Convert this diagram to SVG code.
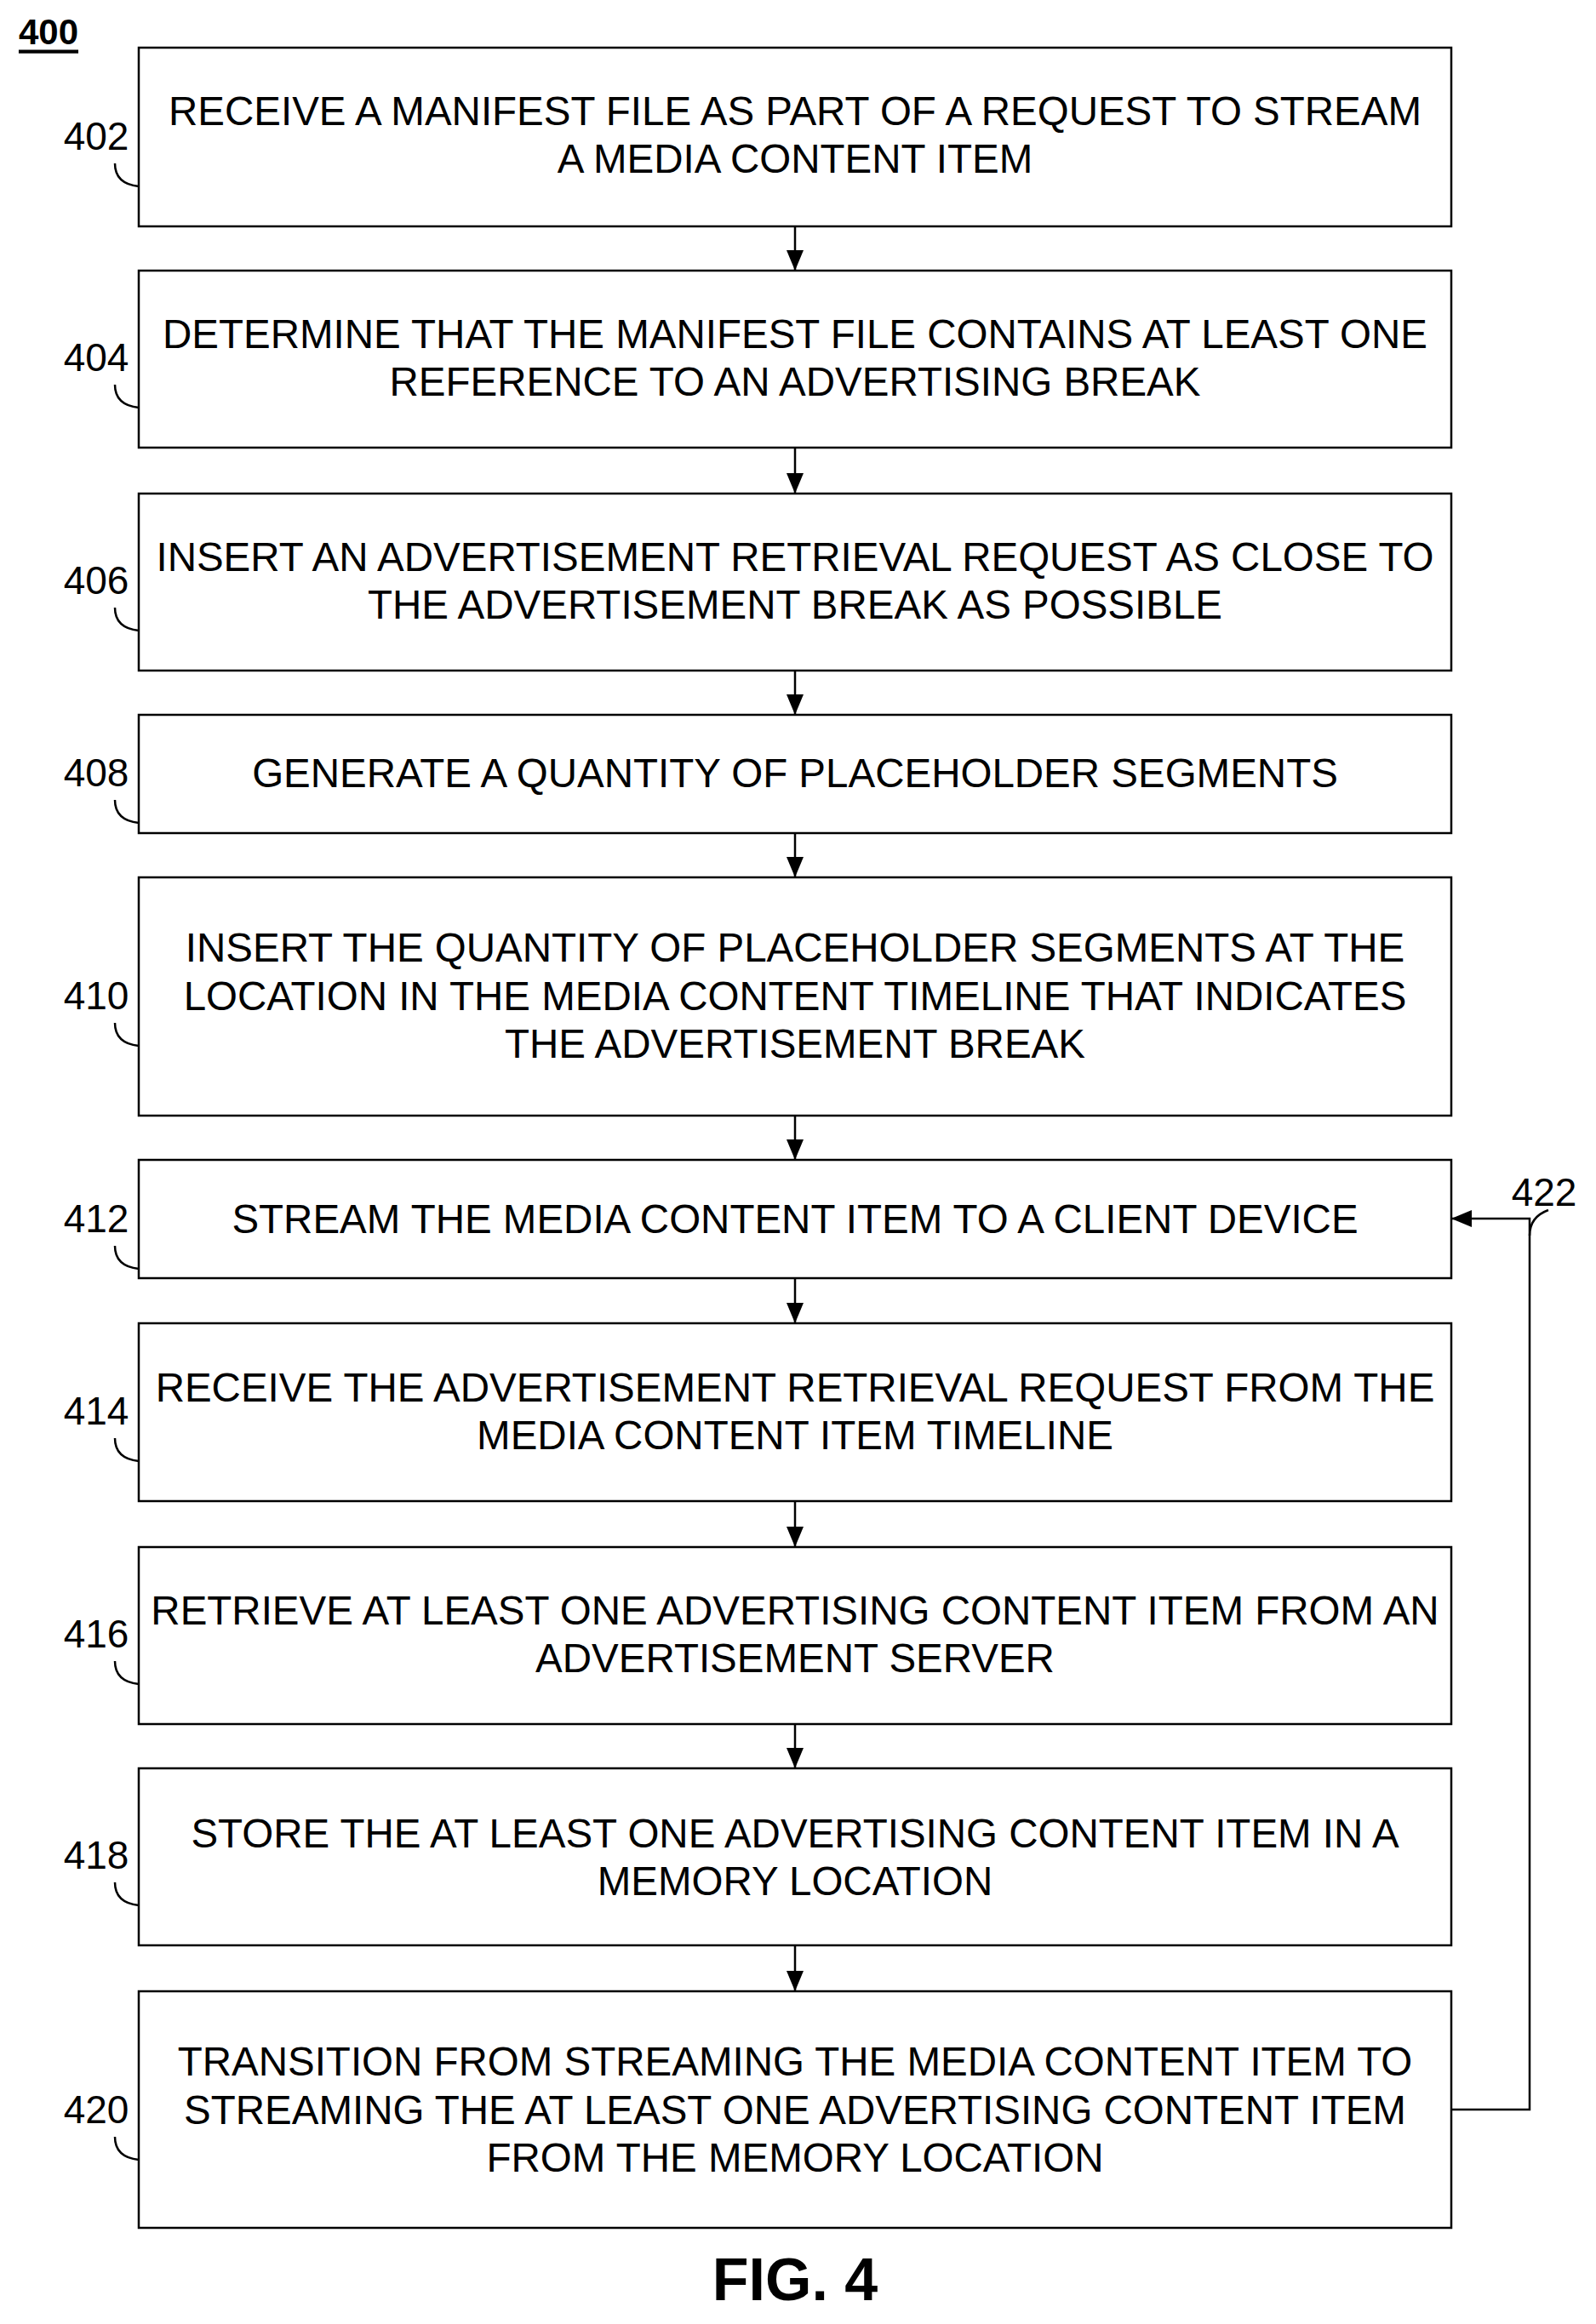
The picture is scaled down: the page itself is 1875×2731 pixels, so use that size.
<svg xmlns="http://www.w3.org/2000/svg" width="1875" height="2731" viewBox="0 0 1875 2731">
<style>
.b{fill:#fff;stroke:#000;stroke-width:2.5}
.t{font-family:"Liberation Sans",Arial,sans-serif;font-size:47.5px;text-anchor:middle;dominant-baseline:central}
.l{font-family:"Liberation Sans",Arial,sans-serif;font-size:46px;text-anchor:middle;dominant-baseline:central}
.c{fill:none;stroke:#000;stroke-width:2.5}
</style>
<defs><marker id="ah" markerWidth="24" markerHeight="24" refX="24" refY="12" orient="auto" markerUnits="userSpaceOnUse"><path d="M0,2L24,12L0,22z"/></marker></defs>
<rect width="1875" height="2731" fill="#fff"/>
<text x="57" y="37" class="l" style="font-weight:bold;text-decoration:underline;font-size:42px">400</text>
<g id="n402"><rect class="b" x="163" y="56" width="1542" height="210"/><text class="t" x="934" y="130">RECEIVE A MANIFEST FILE AS PART OF A REQUEST TO STREAM</text><text class="t" x="934" y="186">A MEDIA CONTENT ITEM</text><text class="l" x="113" y="160">402</text><path class="c" d="M135,192q0,24 28,27"/></g>
<g id="n404"><rect class="b" x="163" y="318" width="1542" height="208"/><text class="t" x="934" y="392">DETERMINE THAT THE MANIFEST FILE CONTAINS AT LEAST ONE</text><text class="t" x="934" y="448">REFERENCE TO AN ADVERTISING BREAK</text><text class="l" x="113" y="420">404</text><path class="c" d="M135,452q0,24 28,27"/></g>
<g id="n406"><rect class="b" x="163" y="580" width="1542" height="208"/><text class="t" x="934" y="654">INSERT AN ADVERTISEMENT RETRIEVAL REQUEST AS CLOSE TO</text><text class="t" x="934" y="710">THE ADVERTISEMENT BREAK AS POSSIBLE</text><text class="l" x="113" y="682">406</text><path class="c" d="M135,714q0,24 28,27"/></g>
<g id="n408"><rect class="b" x="163" y="840" width="1542" height="139"/><text class="t" x="934" y="908">GENERATE A QUANTITY OF PLACEHOLDER SEGMENTS</text><text class="l" x="113" y="908">408</text><path class="c" d="M135,940q0,24 28,27"/></g>
<g id="n410"><rect class="b" x="163" y="1031" width="1542" height="280"/><text class="t" x="934" y="1113">INSERT THE QUANTITY OF PLACEHOLDER SEGMENTS AT THE</text><text class="t" x="934" y="1170">LOCATION IN THE MEDIA CONTENT TIMELINE THAT INDICATES</text><text class="t" x="934" y="1226">THE ADVERTISEMENT BREAK</text><text class="l" x="113" y="1170">410</text><path class="c" d="M135,1202q0,24 28,27"/></g>
<g id="n412"><rect class="b" x="163" y="1363" width="1542" height="139"/><text class="t" x="934" y="1432">STREAM THE MEDIA CONTENT ITEM TO A CLIENT DEVICE</text><text class="l" x="113" y="1432">412</text><path class="c" d="M135,1464q0,24 28,27"/></g>
<g id="n414"><rect class="b" x="163" y="1555" width="1542" height="209"/><text class="t" x="934" y="1630">RECEIVE THE ADVERTISEMENT RETRIEVAL REQUEST FROM THE</text><text class="t" x="934" y="1686">MEDIA CONTENT ITEM TIMELINE</text><text class="l" x="113" y="1658">414</text><path class="c" d="M135,1690q0,24 28,27"/></g>
<g id="n416"><rect class="b" x="163" y="1818" width="1542" height="208"/><text class="t" x="934" y="1892">RETRIEVE AT LEAST ONE ADVERTISING CONTENT ITEM FROM AN</text><text class="t" x="934" y="1948">ADVERTISEMENT SERVER</text><text class="l" x="113" y="1920">416</text><path class="c" d="M135,1952q0,24 28,27"/></g>
<g id="n418"><rect class="b" x="163" y="2078" width="1542" height="208"/><text class="t" x="934" y="2154">STORE THE AT LEAST ONE ADVERTISING CONTENT ITEM IN A</text><text class="t" x="934" y="2210">MEMORY LOCATION</text><text class="l" x="113" y="2180">418</text><path class="c" d="M135,2212q0,24 28,27"/></g>
<g id="n420"><rect class="b" x="163" y="2340" width="1542" height="278"/><text class="t" x="934" y="2422">TRANSITION FROM STREAMING THE MEDIA CONTENT ITEM TO</text><text class="t" x="934" y="2479">STREAMING THE AT LEAST ONE ADVERTISING CONTENT ITEM</text><text class="t" x="934" y="2535">FROM THE MEMORY LOCATION</text><text class="l" x="113" y="2479">420</text><path class="c" d="M135,2511q0,24 28,27"/></g>
<g id="connectors" class="c">
<path d="M934,266V318" marker-end="url(#ah)"/>
<path d="M934,526V580" marker-end="url(#ah)"/>
<path d="M934,788V840" marker-end="url(#ah)"/>
<path d="M934,979V1031" marker-end="url(#ah)"/>
<path d="M934,1311V1363" marker-end="url(#ah)"/>
<path d="M934,1502V1555" marker-end="url(#ah)"/>
<path d="M934,1764V1818" marker-end="url(#ah)"/>
<path d="M934,2026V2078" marker-end="url(#ah)"/>
<path d="M934,2286V2340" marker-end="url(#ah)"/>
<path d="M1705,2479H1797V1432H1705" marker-end="url(#ah)"/>
<path d="M1797,1452q0,-22 22,-30"/>
</g>
<text class="l" x="1814" y="1401">422</text>
<text x="934" y="2703" style="font-family:'Liberation Sans',Arial,sans-serif;font-size:70px;font-weight:bold;text-anchor:middle">FIG. 4</text>
</svg>
